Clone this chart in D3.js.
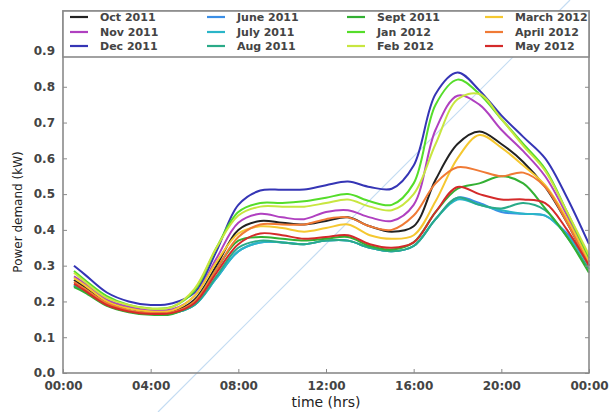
<!DOCTYPE html>
<html>
<head>
<meta charset="utf-8">
<script src="https://cdn.jsdelivr.net/npm/d3@7"></script>
<style>
  body { margin: 0; background: #fff; }
  text { font-family: "DejaVu Sans", sans-serif; }
</style>
</head>
<body>
<script>
// hours of the day the readings were taken at
var hours = [0.5, 1, 2, 3, 4, 5, 6, 7, 8, 9, 10, 11, 12, 13, 14, 15, 16, 17, 18, 19, 20, 21, 22, 23, 24];

// tick labels
var xTicks = [0, 4, 8, 12, 16, 20, 24];
var xTickLabels = ["00:00", "04:00", "08:00", "12:00", "16:00", "20:00", "00:00"];
var yTicks = [0, 0.1, 0.2, 0.3, 0.4, 0.5, 0.6, 0.7, 0.8, 0.9];

// series names, in legend order (column by column)
var months = ["Oct 2011", "Nov 2011", "Dec 2011", "June 2011", "July 2011", "Aug 2011",
              "Sept 2011", "Jan 2012", "Feb 2012", "March 2012", "April 2012", "May 2012"];

var colors = ["#222222", "#b040c0", "#3535b5", "#3a8ee6", "#2ab5c8", "#2aaa88",
              "#33b033", "#55dd2a", "#c8e640", "#f5c830", "#f07a35", "#d42a2a"];

// power demand (kW), one value per hour above
var oct2011  = [0.26, 0.24, 0.20, 0.18, 0.17, 0.172, 0.205, 0.30, 0.40, 0.425, 0.42, 0.415, 0.425, 0.435, 0.41, 0.395, 0.41, 0.54, 0.64, 0.675, 0.64, 0.59, 0.52, 0.42, 0.30];
var nov2011  = [0.27, 0.25, 0.205, 0.185, 0.175, 0.178, 0.215, 0.32, 0.42, 0.445, 0.435, 0.43, 0.45, 0.455, 0.435, 0.425, 0.47, 0.68, 0.775, 0.75, 0.68, 0.62, 0.55, 0.44, 0.31];
var dec2011  = [0.30, 0.275, 0.225, 0.20, 0.19, 0.195, 0.225, 0.34, 0.47, 0.51, 0.512, 0.513, 0.525, 0.535, 0.52, 0.515, 0.58, 0.78, 0.84, 0.79, 0.72, 0.66, 0.60, 0.49, 0.36];
var june2011 = [0.245, 0.228, 0.19, 0.172, 0.165, 0.167, 0.19, 0.265, 0.34, 0.365, 0.365, 0.36, 0.37, 0.37, 0.35, 0.34, 0.355, 0.43, 0.49, 0.475, 0.45, 0.445, 0.44, 0.39, 0.31];
var july2011 = [0.245, 0.228, 0.19, 0.172, 0.165, 0.167, 0.19, 0.265, 0.34, 0.365, 0.365, 0.36, 0.37, 0.37, 0.35, 0.34, 0.355, 0.43, 0.485, 0.47, 0.455, 0.445, 0.44, 0.385, 0.30];
var aug2011  = [0.245, 0.228, 0.19, 0.172, 0.165, 0.167, 0.19, 0.27, 0.35, 0.37, 0.365, 0.36, 0.37, 0.37, 0.35, 0.34, 0.355, 0.43, 0.49, 0.47, 0.46, 0.475, 0.455, 0.38, 0.29];
var sept2011 = [0.24, 0.225, 0.188, 0.17, 0.163, 0.165, 0.20, 0.29, 0.37, 0.38, 0.375, 0.37, 0.375, 0.38, 0.355, 0.345, 0.365, 0.45, 0.515, 0.53, 0.55, 0.53, 0.46, 0.38, 0.28];
var jan2012  = [0.285, 0.26, 0.215, 0.19, 0.18, 0.185, 0.23, 0.35, 0.45, 0.475, 0.475, 0.48, 0.49, 0.50, 0.48, 0.47, 0.53, 0.75, 0.82, 0.78, 0.71, 0.64, 0.57, 0.45, 0.32];
var feb2012  = [0.28, 0.255, 0.21, 0.19, 0.18, 0.185, 0.235, 0.35, 0.44, 0.465, 0.465, 0.465, 0.475, 0.485, 0.465, 0.455, 0.50, 0.64, 0.765, 0.78, 0.71, 0.635, 0.565, 0.45, 0.33];
var mar2012  = [0.265, 0.245, 0.20, 0.18, 0.172, 0.175, 0.215, 0.31, 0.39, 0.41, 0.405, 0.395, 0.405, 0.415, 0.385, 0.375, 0.385, 0.48, 0.60, 0.665, 0.63, 0.58, 0.525, 0.43, 0.31];
var apr2012  = [0.255, 0.235, 0.195, 0.175, 0.168, 0.17, 0.20, 0.29, 0.38, 0.415, 0.415, 0.415, 0.43, 0.435, 0.41, 0.40, 0.44, 0.53, 0.575, 0.565, 0.55, 0.56, 0.52, 0.42, 0.30];
var may2012  = [0.25, 0.23, 0.19, 0.172, 0.165, 0.168, 0.195, 0.28, 0.36, 0.39, 0.385, 0.375, 0.38, 0.385, 0.36, 0.35, 0.365, 0.45, 0.52, 0.50, 0.485, 0.485, 0.475, 0.40, 0.30];

var seriesValues = [oct2011, nov2011, dec2011, june2011, july2011, aug2011,
                    sept2011, jan2012, feb2012, mar2012, apr2012, may2012];

var svgWidth = 610;
var svgHeight = 412;
var plotLeft = 63, plotRight = 589, plotTop = 11, plotBottom = 373;

var svg = d3.select("body")
            .append("svg")
            .attr("width", svgWidth)
            .attr("height", svgHeight);

var xScale = d3.scaleLinear()
               .domain([0, 24])
               .range([plotLeft, plotRight]);

var yScale = d3.scaleLinear()
               .domain([0, 0.9])
               .range([plotBottom, 51]);

// faint watermark line
svg.append("line")
   .attr("x1", 570).attr("y1", 0)
   .attr("x2", 158).attr("y2", 412)
   .attr("stroke", "#c4dcf2")
   .attr("stroke-width", 1.2);

// lines
var line = d3.line()
             .x(function(d) { return xScale(d[0]); })
             .y(function(d) { return yScale(d[1]); })
             .curve(d3.curveCatmullRom.alpha(0.5));

var plot = svg.append("g");
seriesValues.forEach(function(vals, i) {
  var pts = hours.map(function(h, j) { return [h, vals[j]]; });
  plot.append("path")
      .attr("d", line(pts))
      .attr("fill", "none")
      .attr("stroke", colors[i])
      .attr("stroke-width", 2)
      .attr("stroke-linejoin", "round");
});

// axes, ticks pointing inward like matplotlib classic
var axisColor = "#8a8a8a";
var xAxis = svg.append("g")
               .attr("transform", "translate(0," + plotBottom + ")")
               .call(d3.axisBottom(xScale).tickValues(xTicks)
                       .tickSize(-4).tickPadding(8)
                       .tickFormat(function(d, i) { return xTickLabels[i]; }));
var yAxis = svg.append("g")
               .attr("transform", "translate(" + plotLeft + ",0)")
               .call(d3.axisLeft(yScale).tickValues(yTicks)
                       .tickSize(-4).tickPadding(8)
                       .tickFormat(d3.format(".1f")));
var yAxisRight = svg.append("g")
                    .attr("transform", "translate(" + plotRight + ",0)")
                    .call(d3.axisRight(yScale).tickValues(yTicks)
                            .tickSize(-4).tickFormat(""));

[xAxis, yAxis, yAxisRight].forEach(function(a) {
  a.select(".domain").remove();
  a.selectAll(".tick line").attr("stroke", axisColor);
  a.selectAll(".tick text")
   .attr("font-family", "DejaVu Sans")
   .attr("font-size", 12)
   .attr("font-weight", "bold")
   .attr("fill", "#444");
});

// frame
svg.append("rect")
   .attr("x", plotLeft).attr("y", plotTop)
   .attr("width", plotRight - plotLeft).attr("height", plotBottom - plotTop)
   .attr("fill", "none")
   .attr("stroke", axisColor)
   .attr("stroke-width", 1.6);

// axis labels
svg.append("text")
   .attr("x", (plotLeft + plotRight) / 2)
   .attr("y", 407)
   .attr("text-anchor", "middle")
   .attr("font-size", 14)
   .attr("fill", "#222")
   .text("time (hrs)");

svg.append("text")
   .attr("transform", "translate(22," + 212 + ") rotate(-90)")
   .attr("text-anchor", "middle")
   .attr("font-size", 12)
   .attr("fill", "#222")
   .text("Power demand (kW)");

// legend box
svg.append("rect")
   .attr("x", plotLeft).attr("y", plotTop)
   .attr("width", plotRight - plotLeft).attr("height", 46)
   .attr("fill", "#fff")
   .attr("stroke", axisColor)
   .attr("stroke-width", 1.6);

var colX = [70, 207, 347, 485];
var rowY = [17, 32, 46];
var legend = svg.selectAll(".legend")
                .data(months)
                .enter().append("g")
                .attr("class", "legend")
                .attr("transform", function(d, i) {
                  return "translate(" + colX[Math.floor(i / 3)] + "," + rowY[i % 3] + ")";
                });

legend.append("line")
      .attr("x1", 0).attr("x2", 18)
      .attr("y1", 0).attr("y2", 0)
      .attr("stroke", function(d, i) { return colors[i]; })
      .attr("stroke-width", 2.2);

legend.append("text")
      .attr("x", 30)
      .attr("y", 4)
      .attr("font-size", 11)
      .attr("font-weight", "bold")
      .attr("fill", "#444")
      .text(function(d) { return d; });
</script>
</body>
</html>
